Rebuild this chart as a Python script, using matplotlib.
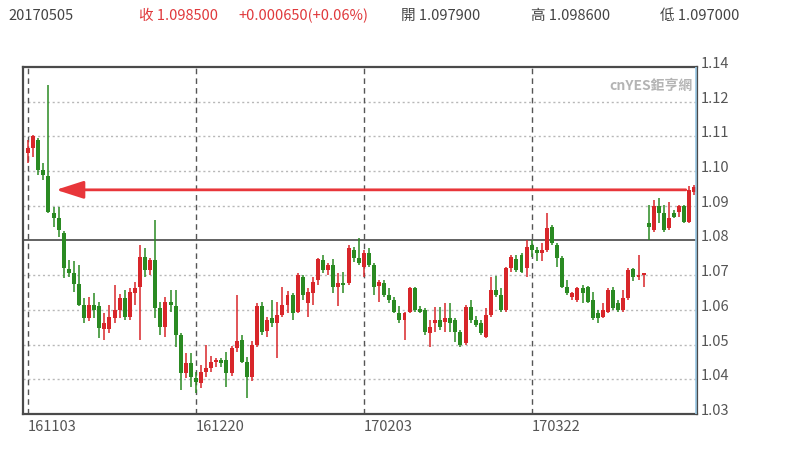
import matplotlib
matplotlib.use("Agg")
import matplotlib.pyplot as plt
import matplotlib.transforms as mtransforms
import numpy as np

plt.rcParams['font.family'] = ['Noto Sans CJK TC', 'DejaVu Sans']

# daily candles, 161103 .. 170505 (open, high, low, close)
opens = [1.1053, 1.1066, 1.1091, 1.1003, 1.0986, 1.0880, 1.0864, 1.0821, 1.0717, 1.0705,
         1.0676, 1.0614, 1.0576, 1.0614, 1.0610, 1.0545, 1.0545, 1.0576, 1.0600, 1.0633,
         1.0580, 1.0650, 1.0667, 1.0753, 1.0715, 1.0744, 1.0605, 1.0552, 1.0624, 1.0611,
         1.0528, 1.0417, 1.0446, 1.0403, 1.0388, 1.0422, 1.0432, 1.0450, 1.0456, 1.0456,
         1.0417, 1.0490, 1.0513, 1.0451, 1.0408, 1.0499, 1.0610, 1.0538, 1.0576, 1.0562,
         1.0585, 1.0614, 1.0643, 1.0595, 1.0696, 1.0619, 1.0648, 1.0686, 1.0744, 1.0715,
         1.0729, 1.0667, 1.0677, 1.0677, 1.0773, 1.0749, 1.0725, 1.0763, 1.0729, 1.0670,
         1.0677, 1.0643, 1.0629, 1.0590, 1.0571, 1.0595, 1.0662, 1.0604, 1.0600, 1.0532,
         1.0562, 1.0571, 1.0566, 1.0576, 1.0571, 1.0537, 1.0504, 1.0609, 1.0571, 1.0561,
         1.0523, 1.0585, 1.0657, 1.0643, 1.0600, 1.0720, 1.0748, 1.0758, 1.0720, 1.0787,
         1.0773, 1.0763, 1.0773, 1.0840, 1.0787, 1.0749, 1.0667, 1.0638, 1.0629, 1.0662,
         1.0665, 1.0629, 1.0590, 1.0580, 1.0595, 1.0657, 1.0619, 1.0600, 1.0633, 1.0717,
         1.0696, 1.0700, 1.0849, 1.0830, 1.0898, 1.0878, 1.0835, 1.0878, 1.0883, 1.0898,
         1.0854, 1.0940]
highs = [1.1090, 1.1104, 1.1094, 1.1023, 1.1248, 1.0897, 1.0897, 1.0826, 1.0744, 1.0740,
         1.0730, 1.0633, 1.0637, 1.0648, 1.0624, 1.0591, 1.0614, 1.0672, 1.0647, 1.0657,
         1.0662, 1.0681, 1.0787, 1.0777, 1.0750, 1.0859, 1.0624, 1.0638, 1.0657, 1.0657,
         1.0533, 1.0475, 1.0475, 1.0422, 1.0441, 1.0499, 1.0466, 1.0460, 1.0462, 1.0480,
         1.0497, 1.0643, 1.0528, 1.0465, 1.0509, 1.0619, 1.0624, 1.0580, 1.0629, 1.0624,
         1.0667, 1.0655, 1.0650, 1.0705, 1.0701, 1.0662, 1.0696, 1.0749, 1.0758, 1.0734,
         1.0746, 1.0705, 1.0710, 1.0787, 1.0782, 1.0807, 1.0773, 1.0778, 1.0734, 1.0686,
         1.0686, 1.0662, 1.0638, 1.0610, 1.0595, 1.0667, 1.0667, 1.0610, 1.0605, 1.0571,
         1.0609, 1.0609, 1.0619, 1.0619, 1.0576, 1.0542, 1.0614, 1.0629, 1.0581, 1.0571,
         1.0605, 1.0696, 1.0698, 1.0662, 1.0725, 1.0758, 1.0758, 1.0763, 1.0801, 1.0801,
         1.0782, 1.0792, 1.0878, 1.0845, 1.0792, 1.0754, 1.0686, 1.0653, 1.0667, 1.0672,
         1.0670, 1.0653, 1.0600, 1.0619, 1.0662, 1.0667, 1.0629, 1.0657, 1.0720, 1.0720,
         1.0758, 1.0706, 1.0902, 1.0917, 1.0922, 1.0902, 1.0912, 1.0888, 1.0901, 1.0901,
         1.0957, 1.0960]
lows = [1.1022, 1.1042, 1.0989, 1.0974, 1.0878, 1.0840, 1.0811, 1.0692, 1.0696, 1.0652,
        1.0610, 1.0562, 1.0567, 1.0576, 1.0518, 1.0514, 1.0532, 1.0562, 1.0576, 1.0571,
        1.0571, 1.0614, 1.0513, 1.0696, 1.0700, 1.0576, 1.0528, 1.0523, 1.0595, 1.0494,
        1.0369, 1.0403, 1.0379, 1.0360, 1.0374, 1.0408, 1.0422, 1.0436, 1.0436, 1.0379,
        1.0410, 1.0480, 1.0446, 1.0345, 1.0394, 1.0494, 1.0528, 1.0523, 1.0552, 1.0461,
        1.0580, 1.0590, 1.0571, 1.0590, 1.0629, 1.0579, 1.0614, 1.0672, 1.0705, 1.0700,
        1.0648, 1.0610, 1.0650, 1.0672, 1.0739, 1.0730, 1.0696, 1.0725, 1.0643, 1.0624,
        1.0638, 1.0619, 1.0590, 1.0561, 1.0513, 1.0590, 1.0595, 1.0590, 1.0528, 1.0494,
        1.0537, 1.0542, 1.0537, 1.0537, 1.0508, 1.0494, 1.0499, 1.0562, 1.0552, 1.0528,
        1.0518, 1.0580, 1.0638, 1.0595, 1.0595, 1.0710, 1.0710, 1.0705, 1.0696, 1.0753,
        1.0740, 1.0742, 1.0768, 1.0787, 1.0725, 1.0662, 1.0643, 1.0629, 1.0624, 1.0619,
        1.0619, 1.0571, 1.0561, 1.0576, 1.0590, 1.0600, 1.0595, 1.0595, 1.0628, 1.0682,
        1.0686, 1.0667, 1.0800, 1.0825, 1.0850, 1.0825, 1.0830, 1.0864, 1.0869, 1.0851,
        1.0849, 1.0930]
closes = [1.1066, 1.1101, 1.1003, 1.0990, 1.0883, 1.0864, 1.0830, 1.0720, 1.0705, 1.0676,
          1.0614, 1.0576, 1.0614, 1.0600, 1.0547, 1.0562, 1.0580, 1.0600, 1.0633, 1.0580,
          1.0652, 1.0662, 1.0753, 1.0715, 1.0744, 1.0605, 1.0552, 1.0624, 1.0614, 1.0528,
          1.0417, 1.0446, 1.0408, 1.0393, 1.0422, 1.0432, 1.0450, 1.0455, 1.0448, 1.0417,
          1.0490, 1.0509, 1.0451, 1.0408, 1.0499, 1.0610, 1.0537, 1.0571, 1.0562, 1.0585,
          1.0614, 1.0643, 1.0590, 1.0701, 1.0643, 1.0653, 1.0681, 1.0746, 1.0715, 1.0729,
          1.0667, 1.0677, 1.0672, 1.0778, 1.0749, 1.0734, 1.0763, 1.0729, 1.0667, 1.0681,
          1.0643, 1.0629, 1.0595, 1.0571, 1.0590, 1.0662, 1.0600, 1.0595, 1.0537, 1.0552,
          1.0571, 1.0552, 1.0576, 1.0561, 1.0537, 1.0499, 1.0609, 1.0571, 1.0556, 1.0532,
          1.0585, 1.0657, 1.0643, 1.0600, 1.0720, 1.0753, 1.0715, 1.0710, 1.0782, 1.0773,
          1.0763, 1.0773, 1.0835, 1.0792, 1.0749, 1.0667, 1.0648, 1.0648, 1.0662, 1.0648,
          1.0624, 1.0576, 1.0576, 1.0600, 1.0657, 1.0605, 1.0600, 1.0633, 1.0715, 1.0696,
          1.0700, 1.0705, 1.0840, 1.0898, 1.0878, 1.0830, 1.0864, 1.0869, 1.0898, 1.0854,
          1.0946, 1.0955]

date_ticks = [0, 33, 66, 99]
date_labels = ['161103', '161220', '170203', '170322']
price_ticks = [1.03, 1.04, 1.05, 1.06, 1.07, 1.08, 1.09, 1.10, 1.11, 1.12, 1.13]
price_labels = ['1.03', '1.04', '1.05', '1.06', '1.07', '1.08', '1.09', '1.10', '1.11', '1.12', '1.14']
ref_price = 1.08
arrow_price = 1.0946

header = [('20170505', '#444444'), ('收 1.098500', '#e0393c'), ('+0.000650(+0.06%)', '#e0393c'),
          ('開 1.097900', '#444444'), ('高 1.098600', '#444444'), ('低 1.097000', '#444444')]
header_x = [8, 139, 238, 401, 531, 660]

up_col = '#d8262a'
dn_col = '#2a8a22'

o = np.array(opens)
h = np.array(highs)
l = np.array(lows)
c = np.array(closes)
idx = np.arange(len(o))
cols = [up_col if cc >= oo else dn_col for oo, cc in zip(o, c)]

fig = plt.figure(figsize=(8, 4.5), dpi=100)
ax = fig.add_axes([23 / 800, 36 / 450, 674 / 800, 347 / 450])

# grid
for p in price_ticks[1:-1]:
    if abs(p - ref_price) > 1e-9:
        ax.axhline(p, color='#b8b8b8', lw=1, ls=(0, (1.5, 2)), zorder=1)
for t in date_ticks:
    ax.axvline(t, color='#555555', lw=1, ls=(0, (4, 3)), zorder=1)
ax.axhline(ref_price, color='#555555', lw=1.3, zorder=1)

# candles
ax.vlines(idx, l, h, colors=cols, lw=1.1, zorder=2)
body = np.maximum(np.abs(c - o), 0.00015)
ax.bar(idx, body, bottom=np.minimum(o, c), width=0.78, color=cols, zorder=3)

# arrow
ax.annotate('', xy=(5.5, arrow_price), xytext=(129.3, arrow_price),
            arrowprops=dict(arrowstyle='-|>,head_length=1.4,head_width=0.45',
                            color='#e8363a', lw=2, mutation_scale=12,
                            shrinkA=0, shrinkB=0), zorder=4)

ax.set_xlim(-1, 131.5)
ax.set_ylim(1.03, 1.13)

ax.set_xticks(date_ticks)
ax.set_xticklabels(date_labels, ha='left', color='#555555', fontsize=10.5)
ax.tick_params(axis='x', length=0, pad=4)
ax.set_yticks([])
ytr = mtransforms.offset_copy(ax.get_yaxis_transform(), fig=fig, x=4, y=3, units='dots')
for p, lab in zip(price_ticks, price_labels):
    ax.text(1.0, p, lab, transform=ytr, ha='left', va='center', fontsize=10.5, color='#555555')

for s in ax.spines.values():
    s.set_color('#4a4a4a')
    s.set_linewidth(1.6)
ax.axvline(131.35, color='#9ccbe8', lw=1.2, zorder=5)

ax.text(0.993, 0.965, 'cnYES鉅亨網', transform=ax.transAxes, ha='right', va='top',
        fontsize=10, color='#b4b4b4', fontweight='bold')

for (txt, col), x in zip(header, header_x):
    fig.text(x / 800, 1 - 16 / 450, txt, ha='left', va='center', fontsize=10.5, color=col)

fig.savefig('out.png', dpi=100, facecolor='white')
